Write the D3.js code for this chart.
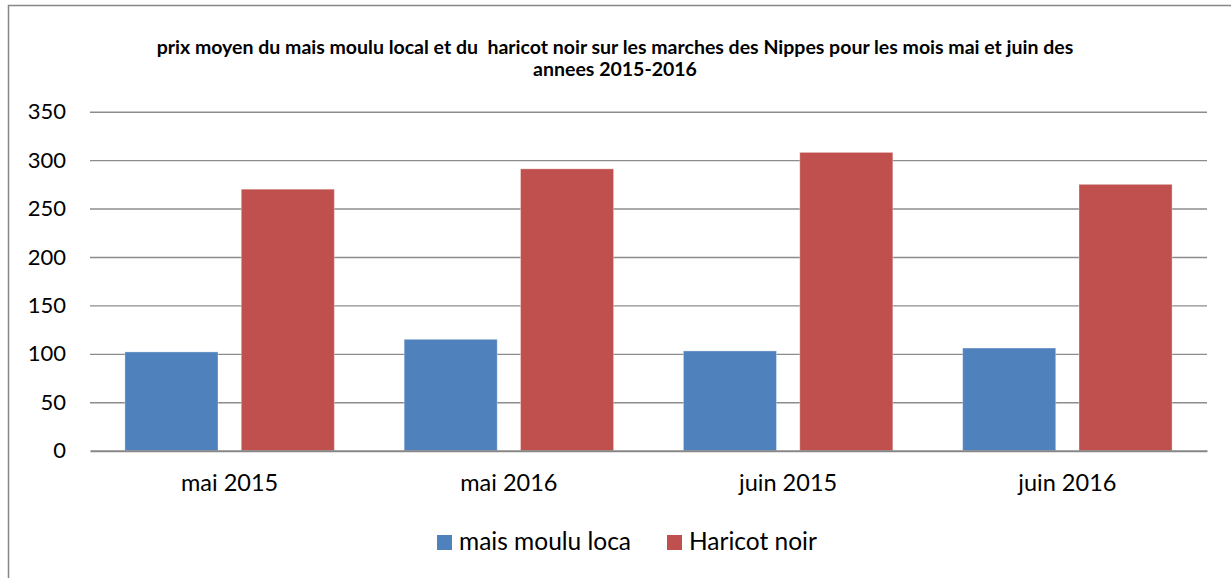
<!DOCTYPE html>
<html>
<head>
<meta charset="utf-8">
<script src="https://cdn.jsdelivr.net/npm/d3@7"></script>
<style>
  body { margin: 0; background: #fff; }
  text { font-family: Lato, "Noto Sans", sans-serif; fill: #000; }
</style>
</head>
<body>
<div id="chart"></div>
<script>
var categories = ["mai 2015", "mai 2016", "juin 2015", "juin 2016"];
var seriesNames = ["mais moulu loca", "Haricot noir"];
var maisValues = [102, 115, 103, 106];
var haricotValues = [270, 291, 308, 275];
var yTicks = [0, 50, 100, 150, 200, 250, 300, 350];
var titleLines = [
  "prix moyen du mais moulu local et du  haricot noir sur les marches des Nippes pour les mois mai et juin des",
  "annees 2015-2016"
];

var colours = ["#4F81BD", "#C0504D"];

var width = 1231, height = 578,
    plotLeft = 90, plotRight = 1207,
    plotTop = 111.7, plotBottom = 450.7;

var svg = d3.select("#chart").append("svg")
    .attr("width", width)
    .attr("height", height);

// chart frame
svg.append("rect")
    .attr("x", 8.5).attr("y", 5.5)
    .attr("width", 1260).attr("height", 620)
    .attr("fill", "none")
    .attr("stroke", "#868686")
    .attr("stroke-width", 1.5);

// title
svg.append("g").selectAll("text")
  .data(titleLines)
  .enter().append("text")
    .attr("x", 615)
    .attr("y", function(d, i) { return 54 + i * 22; })
    .attr("text-anchor", "middle")
    .style("font-size", "19.5px")
    .style("font-weight", "bold")
    .style("white-space", "pre")
    .text(function(d) { return d; });

var x0 = d3.scaleBand()
    .domain(categories)
    .range([plotLeft, plotRight]);

var x1 = d3.scaleBand()
    .domain(seriesNames)
    .range([0, x0.bandwidth()])
    .paddingInner(0.2)
    .paddingOuter(0.3);

var y = d3.scaleLinear()
    .domain([0, 350])
    .range([plotBottom, plotTop]);

// gridlines
var grid = svg.append("g")
    .attr("transform", "translate(" + plotLeft + ",0)")
    .call(d3.axisLeft(y).tickValues(yTicks.slice(1)).tickSize(-(plotRight - plotLeft)).tickFormat(""));
grid.select(".domain").remove();
grid.selectAll("line").attr("stroke", "#8c8c8c").attr("stroke-width", 1.4);

// y axis labels
var yAxis = svg.append("g")
    .attr("transform", "translate(" + plotLeft + ",0)")
    .call(d3.axisLeft(y).tickValues(yTicks).tickSize(0).tickPadding(24));
yAxis.select(".domain").remove();
yAxis.selectAll("text").style("font-size", "22px");

// bars
var rows = categories.map(function(c, i) {
  return {cat: c, values: [maisValues[i], haricotValues[i]]};
});

svg.append("g").selectAll("g")
  .data(rows)
  .enter().append("g")
    .attr("transform", function(d) { return "translate(" + x0(d.cat) + ",0)"; })
  .selectAll("rect")
  .data(function(d) { return d.values.map(function(v, j) { return {key: seriesNames[j], value: v, j: j}; }); })
  .enter().append("rect")
    .attr("x", function(d) { return x1(d.key); })
    .attr("width", x1.bandwidth())
    .attr("y", function(d) { return y(d.value); })
    .attr("height", function(d) { return plotBottom - y(d.value); })
    .attr("fill", function(d) { return colours[d.j]; })
    .attr("stroke", "#ffffff")
    .attr("stroke-opacity", 0.35)
    .attr("stroke-width", 1);

// x axis
var xAxis = svg.append("g")
    .attr("transform", "translate(0," + plotBottom + ")")
    .call(d3.axisBottom(x0).tickSize(0).tickSizeOuter(0));
xAxis.select(".domain")
    .attr("stroke", "#868686")
    .attr("stroke-width", 2);
xAxis.selectAll("text")
    .attr("y", 40)
    .attr("dy", 0)
    .style("font-size", "23.5px");

// legend
var legendX = [437, 667];
var legend = svg.append("g").selectAll("g")
  .data(seriesNames)
  .enter().append("g")
    .attr("transform", function(d, i) { return "translate(" + legendX[i] + ",535)"; });

legend.append("rect")
    .attr("width", 15).attr("height", 15)
    .attr("fill", function(d, i) { return colours[i]; });

legend.append("text")
    .attr("x", 22)
    .attr("y", 15)
    .style("font-size", "24.5px")
    .text(function(d) { return d; });
</script>
</body>
</html>
